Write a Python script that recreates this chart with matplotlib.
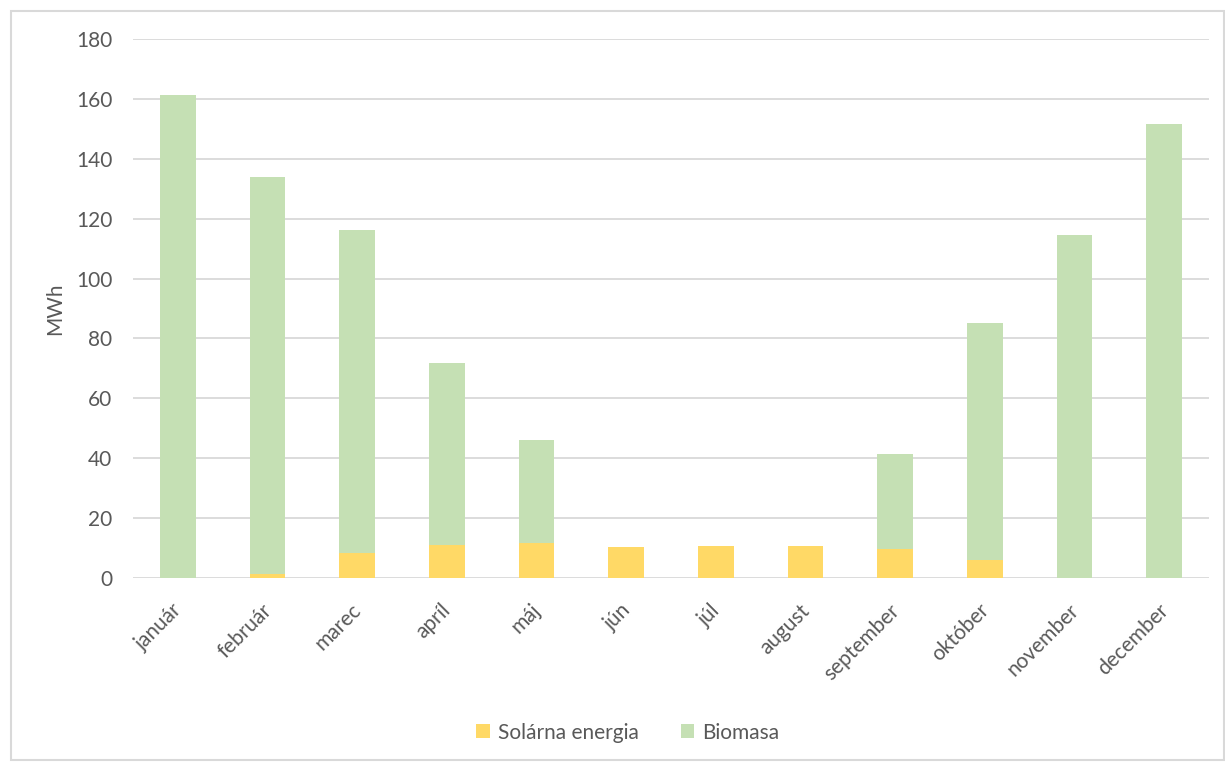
import numpy as np
import matplotlib.pyplot as plt
import matplotlib.transforms as mtransforms
from matplotlib.patches import Rectangle

months = ['január', 'február', 'marec', 'apríl', 'máj', 'jún', 'júl',
          'august', 'september', 'október', 'november', 'december']
solar = [0.0, 1.4, 8.2, 11.1, 11.6, 10.2, 10.7, 10.7, 9.8, 6.1, 0.0, 0.0]
biomasa = [161.3, 132.5, 108.0, 60.7, 34.5, 0.0, 0.0, 0.0, 31.6, 79.1, 114.6, 151.6]
yticks = [0, 20, 40, 60, 80, 100, 120, 140, 160, 180]

plt.rcParams['font.family'] = ['Lato', 'DejaVu Sans']
grey = '#595959'

fig = plt.figure(figsize=(12.25, 7.64), dpi=100)
ax = fig.add_axes([133 / 1225, 0.2435, 1076 / 1225, 0.7055])

x = np.arange(len(months))
ax.bar(x, solar, width=0.4, color='#FFD966', label='Solárna energia', zorder=3)
ax.bar(x, biomasa, width=0.4, bottom=solar, color='#C5E0B4', label='Biomasa', zorder=3)

ax.set_xlim(-0.5, len(months) - 0.5)
ax.set_ylim(0, 180)
ax.set_yticks(yticks)
ax.set_xticks(x)
ax.set_xticklabels(months, rotation=45, ha='right', rotation_mode='anchor')
ax.tick_params(axis='both', length=0, colors=grey, labelsize=15)
ax.tick_params(axis='x', pad=16)
ax.tick_params(axis='y', pad=15)
# nudge the slanted month names a little to the left
shift = mtransforms.ScaledTranslation(-6 / 100, 0, fig.dpi_scale_trans)
for lbl in ax.get_xticklabels():
    lbl.set_transform(lbl.get_transform() + shift)
ax.grid(axis='y', color='#D9D9D9', linewidth=1.3, zorder=0)
for s in ax.spines.values():
    s.set_visible(False)
ax.set_ylabel('MWh', color=grey, fontsize=15, labelpad=8)

leg = fig.legend(loc='center', bbox_to_anchor=(628 / 1225, 0.041), ncol=2, frameon=False,
                 fontsize=15, handlelength=0.65, handleheight=0.65, columnspacing=2.0,
                 handletextpad=0.4)
for t in leg.get_texts():
    t.set_color(grey)

# outer chart frame
fig.patches.append(Rectangle((11 / 1225, 0.005), 1 - 12 / 1225, 1 - 11 / 764 - 0.005,
                             transform=fig.transFigure, fill=False,
                             edgecolor='#D9D9D9', linewidth=1.5))

fig.savefig('out.png', dpi=100)
